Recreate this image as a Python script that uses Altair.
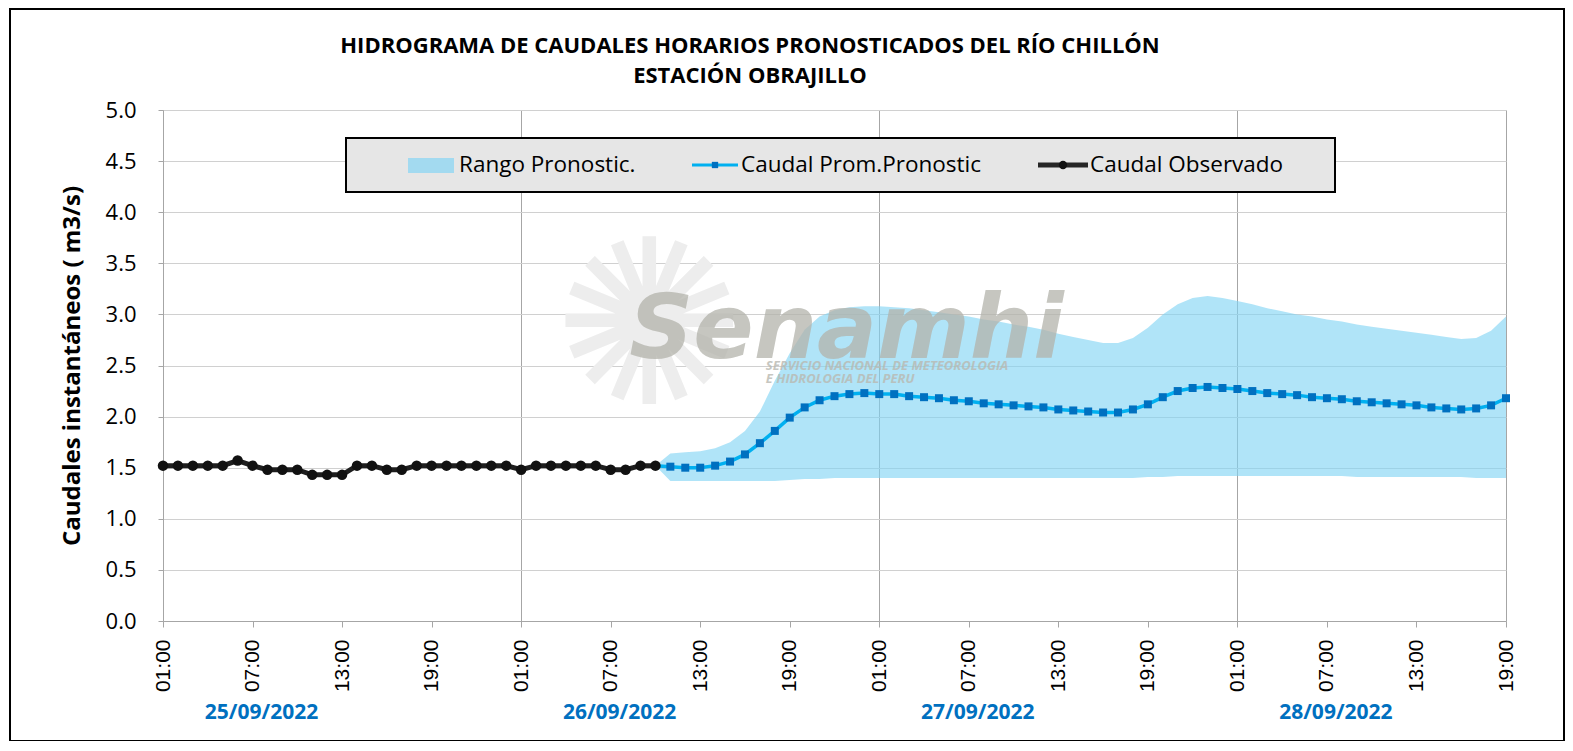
import altair as alt
import pandas as pd

# ---------------- data ----------------
title_lines = ["HIDROGRAMA DE CAUDALES HORARIOS PRONOSTICADOS DEL RÍO CHILLÓN",
               "ESTACIÓN OBRAJILLO"]
y_title = "Caudales instantáneos  ( m3/s)"
legend_labels = ["Rango Pronostic.", "Caudal Prom.Pronostic", "Caudal Observado"]
date_labels = ["25/09/2022", "26/09/2022", "27/09/2022", "28/09/2022"]

# hourly, first value = 25/09/2022 01:00
obs_values = [1.52, 1.52, 1.52, 1.52, 1.52, 1.57, 1.52, 1.48, 1.48, 1.48, 1.43, 1.43,
              1.43, 1.52, 1.52, 1.48, 1.48, 1.52, 1.52, 1.52, 1.52, 1.52, 1.52, 1.52,
              1.48, 1.52, 1.52, 1.52, 1.52, 1.52, 1.48, 1.48, 1.52, 1.52]

# hourly, first value = 26/09/2022 10:00
fc_mean = [1.52,
           1.51, 1.50, 1.50, 1.52, 1.56, 1.63, 1.74, 1.86, 1.99, 2.09, 2.16, 2.20, 2.22,
           2.23, 2.22, 2.22, 2.20, 2.19, 2.18,
           2.16, 2.15, 2.13, 2.12, 2.11, 2.10, 2.09, 2.07, 2.06, 2.05, 2.04, 2.04, 2.07,
           2.12, 2.19, 2.25, 2.28, 2.29, 2.28,
           2.27, 2.25, 2.23, 2.22, 2.21, 2.19, 2.18, 2.17, 2.15, 2.14, 2.13, 2.12, 2.11,
           2.09, 2.08, 2.07, 2.08, 2.11, 2.18]
fc_high = [1.52,
           1.64, 1.65, 1.66, 1.69, 1.75, 1.86, 2.05, 2.35, 2.62, 2.85, 2.98, 3.04, 3.07,
           3.08, 3.08, 3.07, 3.06, 3.04, 3.02,
           3.00, 2.98, 2.95, 2.93, 2.90, 2.88, 2.85, 2.81, 2.78, 2.75, 2.72, 2.72, 2.77,
           2.87, 3.00, 3.10, 3.16, 3.18, 3.16,
           3.13, 3.10, 3.06, 3.03, 3.00, 2.98, 2.95, 2.93, 2.90, 2.88, 2.86, 2.84, 2.82,
           2.80, 2.78, 2.76, 2.77, 2.84, 2.98]
fc_low = [1.52,
          1.37, 1.37, 1.37, 1.37, 1.37, 1.37, 1.37, 1.37, 1.38, 1.39, 1.39, 1.40, 1.40,
          1.40, 1.40, 1.40, 1.40, 1.40, 1.40,
          1.40, 1.40, 1.40, 1.40, 1.40, 1.40, 1.40, 1.40, 1.40, 1.40, 1.40, 1.40, 1.40,
          1.41, 1.41, 1.42, 1.42, 1.42, 1.42,
          1.42, 1.42, 1.42, 1.42, 1.42, 1.42, 1.42, 1.42, 1.41, 1.41, 1.41, 1.41, 1.41,
          1.41, 1.41, 1.41, 1.40, 1.40, 1.40]

tick_hours = list(range(0, 91, 6))          # 01:00, 07:00, 13:00, 19:00 ...
y_ticks = [0, 0.5, 1, 1.5, 2, 2.5, 3, 3.5, 4, 4.5, 5]

FC_START = 33  # index of 26/09 10:00 from 25/09 01:00

obs_df = pd.DataFrame({"h": list(range(len(obs_values))), "q": obs_values})
fc_df = pd.DataFrame({"h": list(range(FC_START, FC_START + len(fc_mean))),
                      "q": fc_mean, "lo": fc_low, "hi": fc_high})
fc_pts = fc_df[fc_df["h"] > FC_START]
date_df = pd.DataFrame({"h": [i * 24 + 6.6 for i in range(len(date_labels))],
                        "t": date_labels})
sun_df = pd.DataFrame({"h": [32.6], "q": [2.8], "t": ["✺"]})
wm_df = pd.DataFrame({"h": [45.8], "q": [2.57], "t": ["Senamhi"]})
wm2_df = pd.DataFrame({"h": [40.4, 40.4], "q": [2.456, 2.33],
                       "t": ["SERVICIO NACIONAL DE METEOROLOGIA", "E HIDROLOGIA DEL PERU"]})
one = pd.DataFrame({"k": [0]})

W, H = 1343, 511
FONT = "Open Sans"
GRID_DARK = "#A6A6A6"

label_expr = ("(((datum.value + 1) % 24) < 10 ? '0' : '') + ((datum.value + 1) % 24) + ':00'")

X_AXIS = alt.Axis(values=tick_hours, labelExpr=label_expr, title=None,
                  labelAngle=-90, labelFont="Liberation Sans", labelFontSize=21,
                  labelColor="black", labelPadding=12,
                  grid=True, gridColor=GRID_DARK,
                  gridOpacity=alt.condition("datum.value % 24 === 0 || datum.value === 90",
                                            alt.value(1), alt.value(0)),
                  domainColor=GRID_DARK, tickColor=GRID_DARK, tickSize=6)
Y_AXIS = alt.Axis(values=y_ticks, format=".1f", title=y_title,
                  labelFont=FONT, labelFontSize=22, labelColor="black",
                  labelPadding=22, tickSize=5, tickColor=GRID_DARK,
                  gridColor="#D0D0D0", domainColor=GRID_DARK,
                  titleFont=FONT, titleFontSize=24, titleFontWeight="bold",
                  titleColor="black", titlePadding=21)
X_SCALE = alt.Scale(domain=[0, 90], nice=False, zero=False)
Y_SCALE = alt.Scale(domain=[0, 5], nice=False, zero=True)


def xe(field="h"):
    return alt.X(f"{field}:Q", scale=X_SCALE, axis=X_AXIS)


def ye(field="q"):
    return alt.Y(f"{field}:Q", scale=Y_SCALE, axis=Y_AXIS)


# watermark
sun = alt.Chart(sun_df).mark_text(font="DejaVu Sans", fontSize=230, color="#EDEDED",
                                  align="center", baseline="middle").encode(
    x=xe(), y=ye(), text="t:N")
wm = alt.Chart(wm_df).mark_text(font="DejaVu Sans", fontSize=89, fontStyle="italic",
                                fontWeight="bold", color="#B3B3AB", opacity=0.75,
                                align="center", baseline="alphabetic").encode(
    x=xe(), y=ye(), text="t:N")
wm2 = alt.Chart(wm2_df).mark_text(font=FONT, fontSize=13, fontStyle="italic",
                                  fontWeight="bold", color="#B9B9B1", opacity=0.8,
                                  align="left", baseline="alphabetic").encode(
    x=xe(), y=ye(), text="t:N")

area = alt.Chart(fc_df).mark_area(color="#7FD3F4", opacity=0.62).encode(
    x=xe(), y=ye("hi"), y2="lo:Q")
fc_line = alt.Chart(fc_df).mark_line(color="#00B0F0", strokeWidth=3.5).encode(
    x=xe(), y=ye())
fc_mark = alt.Chart(fc_pts).mark_point(shape="square", filled=True, size=64,
                                       color="#0070C0", opacity=1).encode(
    x=xe(), y=ye())
obs_line = alt.Chart(obs_df).mark_line(color="#1E1E1E", strokeWidth=5).encode(
    x=xe(), y=ye())
obs_mark = alt.Chart(obs_df).mark_point(shape="circle", filled=True, size=110,
                                        color="#111111", opacity=1).encode(
    x=xe(), y=ye())

dates = alt.Chart(date_df).mark_text(font=FONT, fontSize=21, fontWeight="bold",
                                     color="#0070C0", align="center",
                                     baseline="middle").encode(
    x=xe(), y=alt.value(603), text="t:N")

# title (two lines, centred as in the reference)
title_marks = []
for txt, py in zip(title_lines, [-57, -27]):
    title_marks.append(
        alt.Chart(pd.DataFrame({"t": [txt]})).mark_text(
            font=FONT, fontSize=22, fontWeight="bold", color="black",
            align="center", baseline="alphabetic").encode(
            x=alt.value(587), y=alt.value(py), text="t:N"))

# legend (drawn box)
leg_box = alt.Chart(one).mark_rect(fill="#E6E6E6", stroke="black", strokeWidth=2).encode(
    x=alt.value(183), x2=alt.value(1172), y=alt.value(28), y2=alt.value(82))
leg_sw = alt.Chart(one).mark_rect(fill="#A3DAF0").encode(
    x=alt.value(245), x2=alt.value(291), y=alt.value(48), y2=alt.value(63))
leg_l1 = alt.Chart(one).mark_rule(color="#00B0F0", strokeWidth=3).encode(
    x=alt.value(529), x2=alt.value(575), y=alt.value(55))
leg_p1 = alt.Chart(one).mark_point(shape="square", filled=True, size=40, color="#0070C0",
                                   opacity=1).encode(x=alt.value(552), y=alt.value(55))
leg_l2 = alt.Chart(one).mark_rule(color="#262626", strokeWidth=5).encode(
    x=alt.value(875), x2=alt.value(925), y=alt.value(55))
leg_p2 = alt.Chart(one).mark_point(shape="circle", filled=True, size=70, color="#111111",
                                   opacity=1).encode(x=alt.value(900), y=alt.value(55))
leg_texts = []
for txt, px in zip(legend_labels, [296, 578, 927]):
    leg_texts.append(
        alt.Chart(pd.DataFrame({"t": [txt]})).mark_text(
            font=FONT, fontSize=22.5, color="black", align="left", baseline="middle").encode(
            x=alt.value(px), y=alt.value(55), text="t:N"))

border = alt.Chart(one).mark_rect(fillOpacity=0, stroke="black", strokeWidth=2).encode(
    x=alt.value(-153), x2=alt.value(1401), y=alt.value(-101), y2=alt.value(631))

chart = alt.layer(
    sun, area, wm, wm2, fc_line, fc_mark, obs_line, obs_mark, dates, *title_marks,
    leg_box, leg_sw, leg_l1, leg_p1, leg_l2, leg_p2, *leg_texts, border
).properties(
    width=W, height=H,
    autosize=alt.AutoSizeParams(type="none"),
    padding={"left": 155, "top": 102, "right": 59, "bottom": 120},
).configure_view(strokeWidth=0).configure(background="white")

chart.save("out.html", embed_options={"renderer": "svg", "actions": False})
